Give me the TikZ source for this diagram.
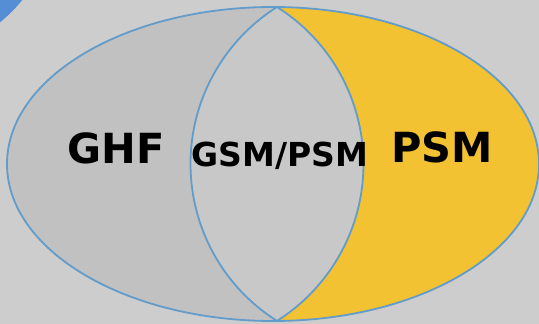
\documentclass[tikz,border=0pt]{standalone}
\usepackage{fontspec}
\newfontfamily\vennfont{DejaVu Sans}
\usetikzlibrary{positioning}

\definecolor{bgGrey}{RGB}{205,205,205}
\definecolor{leftGrey}{RGB}{193,193,193}
\definecolor{lensGrey}{RGB}{200,200,200}
\definecolor{vennYellow}{RGB}{242,194,50}
\definecolor{vennBlue}{RGB}{98,156,203}
\definecolor{cornerBlue}{RGB}{85,142,213}

\begin{document}
\begin{tikzpicture}[x=1pt,y=-1pt,line join=bevel,
  outline/.style={draw=vennBlue,line width=1.8pt},
  venntext/.style={font=\vennfont\bfseries\fontsize{41.5}{42}\selectfont,inner sep=0pt},
  smalltext/.style={venntext,font=\vennfont\bfseries\fontsize{33}{34}\selectfont}]
%%
\useasboundingbox (0,0) rectangle (539,324);
\fill[bgGrey] (0,0) rectangle (539,324);
\begin{scope}
  \clip (0,0) rectangle (539,324);
  \fill[cornerBlue] (-100,-100) circle[radius=158];
  \coordinate (top) at (277,7);
  \coordinate (bot) at (277,321);
  \fill[leftGrey] (273,164) ellipse[x radius=266, y radius=157];
  \begin{scope}
    \clip (273,164) ellipse[x radius=266, y radius=157];
    \fill[vennYellow] (top) arc[start angle=-57.7,end angle=57.7,radius=185.7] -- (560,340) -- (560,-20) -- cycle;
  \end{scope}
  \fill[lensGrey] (top) arc[start angle=-57.7,end angle=57.7,radius=185.7]
    arc[start angle=122.3,end angle=237.7,radius=185.7] -- cycle;
  \draw[outline] (273,164) ellipse[x radius=266, y radius=157];
  \draw[outline] (top) arc[start angle=-57.7,end angle=57.7,radius=185.7]
    arc[start angle=122.3,end angle=237.7,radius=185.7] -- cycle;
\end{scope}
%
\node (node_ghf) at (116,148) [venntext] {GHF};
\node (node_both) at (280,156) [smalltext] {GSM/PSM};
\node (node_psm) at (442,147.5) [venntext] {PSM};
%
\end{tikzpicture}
\end{document}
